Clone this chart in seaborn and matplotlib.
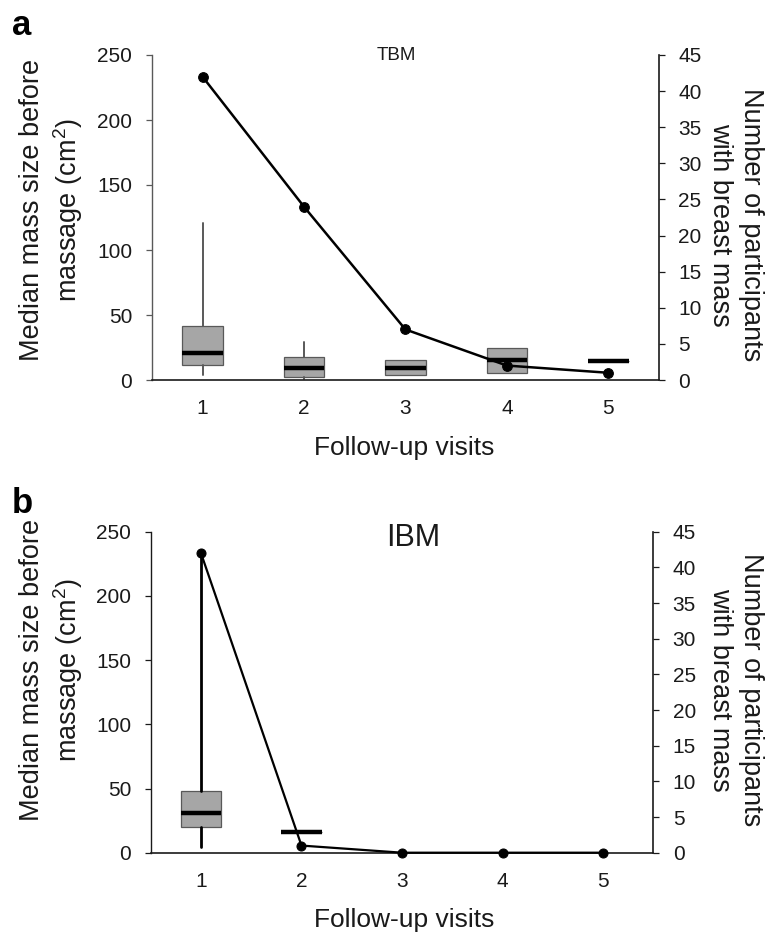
import matplotlib
matplotlib.use('Agg')
import matplotlib.pyplot as plt
import seaborn as sns

visits = [1, 2, 3, 4, 5]

# panel a (TBM): box stats of mass size (cm2) per follow-up visit
tbm_whislo = [3.9, 0.5, 3.9, 5.7, 14.9]
tbm_q1 = [11.6, 2.6, 3.9, 5.7, 14.9]
tbm_med = [20.6, 9.5, 9.5, 15.4, 14.9]
tbm_q3 = [41.7, 17.5, 15.4, 24.4, 14.9]
tbm_whishi = [121.0, 29.3, 15.4, 24.4, 14.9]
tbm_counts = [42, 24, 7, 2, 1]

# panel b (IBM): only visits 1 and 2 have masses
ibm_box_visits = [1, 2]
ibm_whislo = [4.2, 15.9]
ibm_q1 = [19.8, 15.9]
ibm_med = [30.7, 15.9]
ibm_q3 = [48.1, 15.9]
ibm_whishi = [236.0, 15.9]
ibm_counts = [42, 1, 0, 0, 0]

left_ticks = [0, 50, 100, 150, 200, 250]
right_ticks = list(range(0, 50, 5))

sns.set_style('white')
plt.rcParams['font.family'] = ['Liberation Sans', 'DejaVu Sans']
plt.rcParams['mathtext.fontset'] = 'custom'
plt.rcParams['mathtext.rm'] = 'Liberation Sans'

W, H = 771, 935
fig = plt.figure(figsize=(W / 100, H / 100), dpi=100)

TXT = '#1a1a1a'
BOX_FACE = '#a6a6a6'
BOX_EDGE = '#595959'


def draw_panel(rect, box_pos, lo, q1, med, q3, hi, counts, title, title_xy, title_size,
               whisk_color, whisk_lw, left_spine_color, line_lw, msize):
    ax = fig.add_axes(rect)
    stats = [dict(med=m, q1=a, q3=b, whislo=l, whishi=h, label=str(p))
             for p, l, a, m, b, h in zip(box_pos, lo, q1, med, q3, hi)]
    ax.bxp(stats, positions=box_pos, widths=0.4, patch_artist=True,
           showfliers=False, showcaps=False,
           boxprops=dict(facecolor=BOX_FACE, edgecolor=BOX_EDGE, linewidth=0.9),
           medianprops=dict(color='black', linewidth=3.2, solid_capstyle='butt'),
           whiskerprops=dict(color=whisk_color, linewidth=whisk_lw))
    ax.set_xlim(0.5, 5.5)
    ax.set_ylim(0, 250)
    ax.set_yticks(left_ticks)
    ax.set_xticks(visits)
    ax.set_xticklabels([str(v) for v in visits])
    ax.tick_params(axis='x', length=0, pad=14, labelsize=15, labelcolor=TXT)
    ax.tick_params(axis='y', left=True, length=4.5, width=0.9, pad=9.5,
                   labelsize=15, labelcolor=TXT, color=left_spine_color)
    for s in ['top', 'right']:
        ax.spines[s].set_visible(False)
    ax.spines['left'].set_color(left_spine_color)
    ax.spines['left'].set_linewidth(1.0)
    ax.spines['bottom'].set_color('#1a1a1a')
    ax.spines['bottom'].set_linewidth(1.2)

    ax2 = ax.twinx()
    sns.lineplot(x=visits, y=counts, ax=ax2, color='black', linewidth=line_lw,
                 marker='o', markersize=msize, markeredgecolor='black',
                 markerfacecolor='black', clip_on=False)
    ax2.set_ylim(0, 45)
    ax2.set_yticks(right_ticks)
    ax2.tick_params(axis='y', right=True, left=False, length=4.5, width=0.9, pad=9.5,
                    labelsize=15, labelcolor=TXT, color='#1a1a1a')
    for s in ['top', 'left', 'bottom']:
        ax2.spines[s].set_visible(False)
    ax2.spines['right'].set_color('#1a1a1a')
    ax2.spines['right'].set_linewidth(1.2)
    ax2.set_ylabel('')

    ax.text(title_xy[0], title_xy[1], title, transform=ax.transAxes, ha='center',
            va='center', fontsize=title_size, color=TXT)
    return ax


draw_panel([151.8 / W, 1 - 380 / H, 507.2 / W, 325 / H], visits,
           tbm_whislo, tbm_q1, tbm_med, tbm_q3, tbm_whishi, tbm_counts,
           'TBM', (0.483, 1.0), 13.5, BOX_EDGE, 1.4, '#595959', 1.8, 7)
draw_panel([150.7 / W, 1 - 852.7 / H, 502.6 / W, 321 / H], ibm_box_visits,
           ibm_whislo, ibm_q1, ibm_med, ibm_q3, ibm_whishi, ibm_counts,
           'IBM', (0.522, 0.98), 22, 'black', 2.0, '#1a1a1a', 1.6, 6.5)

ylab = 'Median mass size before\nmassage (cm$^2$)'
rlab = 'Number of participants\nwith breast mass'
for yc_left, yc_right, yc_x, letter, y_letter in [(210, 225, 448, 'a', 35), (670, 690, 920, 'b', 513)]:
    fig.text(52 / W, 1 - yc_left / H, ylab, rotation=90, ha='center', va='center',
             multialignment='center', fontsize=19.5, color=TXT, linespacing=1.25)
    fig.text(736 / W, 1 - yc_right / H, rlab, rotation=270, ha='center', va='center',
             multialignment='center', fontsize=19.5, color=TXT, linespacing=1.25)
    fig.text(404 / W, 1 - yc_x / H, 'Follow-up visits', ha='center', va='center',
             fontsize=19, color=TXT)
    fig.text(12 / W, 1 - y_letter / H, letter, ha='left', va='baseline',
             fontsize=25, fontweight='bold', color='black')

fig.savefig('out.png', dpi=100, facecolor='white')
